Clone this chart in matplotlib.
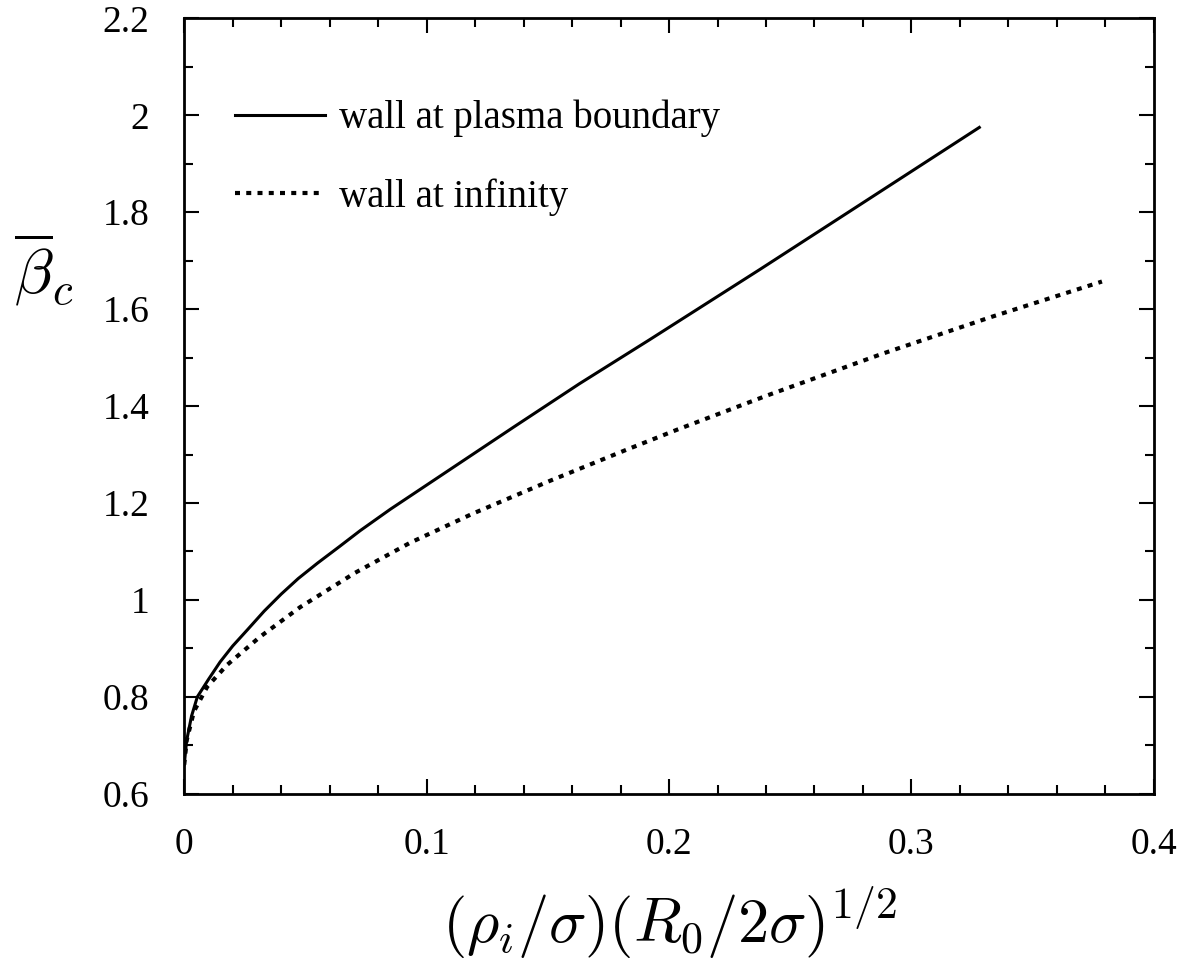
import numpy as np
import matplotlib
matplotlib.use("Agg")
import matplotlib.pyplot as plt
from matplotlib.ticker import MultipleLocator, FuncFormatter

plt.rcParams['font.family'] = ['Liberation Serif', 'DejaVu Serif']
plt.rcParams['mathtext.fontset'] = 'cm'

# values
wall_bnd_x = [0, 0.001, 0.003, 0.0054, 0.01, 0.0148, 0.02, 0.026, 0.033, 0.04,
              0.047, 0.055, 0.064, 0.0726, 0.085, 0.1, 0.136, 0.163, 0.192,
              0.2375, 0.2746, 0.328]
wall_bnd_y = [0.66, 0.71, 0.76, 0.80, 0.836, 0.872, 0.905, 0.938, 0.977, 1.012,
              1.044, 1.076, 1.110, 1.143, 1.187, 1.237, 1.357, 1.446, 1.537,
              1.682, 1.802, 1.975]

wall_inf_x = [0, 0.001, 0.004, 0.0095, 0.0177, 0.0313, 0.0478, 0.0705, 0.0932,
              0.119, 0.151, 0.182, 0.2037, 0.240, 0.288, 0.333, 0.3786]
wall_inf_y = [0.66, 0.71, 0.77, 0.821, 0.866, 0.924, 0.985, 1.056, 1.118,
              1.178, 1.246, 1.309, 1.352, 1.421, 1.508, 1.584, 1.657]

labels = ["wall at plasma boundary", "wall at infinity"]

fig = plt.figure(figsize=(11.81, 9.68), dpi=100)
ax = fig.add_axes([0.156, 0.180, 0.821, 0.801])

ax.plot(wall_bnd_x, wall_bnd_y, color='black', lw=2.2, label=labels[0],
        solid_joinstyle='round')
ax.plot(wall_inf_x, wall_inf_y, color='black', lw=3.0,
        linestyle=(0, (1.2, 1.5)), label=labels[1])

ax.set_xlim(0, 0.4)
ax.set_ylim(0.6, 2.2)
ax.xaxis.set_major_locator(MultipleLocator(0.1))
ax.xaxis.set_minor_locator(MultipleLocator(0.02))
ax.yaxis.set_major_locator(MultipleLocator(0.2))
ax.yaxis.set_minor_locator(MultipleLocator(0.1))
fmt = FuncFormatter(lambda v, p: '%g' % round(v, 3))
ax.xaxis.set_major_formatter(fmt)
ax.yaxis.set_major_formatter(fmt)

ax.tick_params(which='both', direction='in', top=True, right=True, width=1.5)
ax.tick_params(which='major', length=11, labelsize=27)
ax.tick_params(axis='y', which='major', pad=25)
ax.tick_params(axis='x', which='major', pad=24)
ax.tick_params(which='minor', length=6.5)
for s in ax.spines.values():
    s.set_linewidth(2)

ax.set_xlabel(r'$(\rho_i/\sigma)(R_0/2\sigma)^{1/2}$', fontsize=45, va='center')
ax.xaxis.set_label_coords(0.5, -0.166)
ax.set_ylabel(r'$\overline{\beta}_c$', fontsize=46, rotation=0,
              ha='center', va='center')
ax.yaxis.set_label_coords(-0.145, 0.675)

ax.legend(loc='upper left', bbox_to_anchor=(0.0526, 0.895), frameon=False,
          fontsize=28, handlelength=2.3, handletextpad=0.38, labelspacing=1.05,
          borderpad=0, borderaxespad=0)

fig.savefig('out.png', dpi=100)
